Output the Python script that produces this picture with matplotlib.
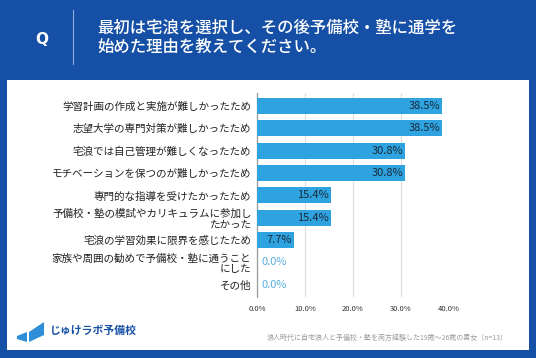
import matplotlib
matplotlib.use("Agg")
import matplotlib.pyplot as plt
from matplotlib.patches import Rectangle, Polygon

plt.rcParams['font.family'] = ['Noto Sans CJK JP', 'DejaVu Sans']

categories = [
    "学習計画の作成と実施が難しかったため",
    "志望大学の専門対策が難しかったため",
    "宅浪では自己管理が難しくなったため",
    "モチベーションを保つのが難しかったため",
    "専門的な指導を受けたかったため",
    "予備校・塾の模試やカリキュラムに参加し\nたかった",
    "宅浪の学習効果に限界を感じたため",
    "家族や周囲の勧めで予備校・塾に通うこと\nにした",
    "その他",
]
values = [38.5, 38.5, 30.8, 30.8, 15.4, 15.4, 7.7, 0.0, 0.0]
xticks = [0, 10, 20, 30, 40]
title = "最初は宅浪を選択し、その後予備校・塾に通学を\n始めた理由を教えてください。"
note = "浪人時代に自宅浪人と予備校・塾を両方経験した19歳～26歳の男女（n=13）"

BLUE = '#1650a6'
BAR = '#2ea3e0'

fig = plt.figure(figsize=(5.36, 3.58), dpi=100)
fig.patch.set_facecolor(BLUE)

W, H = 536, 358
def fx(px): return px / W
def fy(py): return 1 - py / H

# white panel
fig.patches.append(Rectangle((fx(7), fy(350)), fx(522), 270 / H, transform=fig.transFigure,
                             facecolor='white', edgecolor='none', zorder=0))
# header
fig.text(fx(42), fy(40), "Q", color='white', fontsize=11, fontweight='bold',
         ha='center', va='center', family=['DejaVu Sans'])
fig.add_artist(plt.Line2D([fx(73), fx(73)], [fy(10), fy(64)], color='#8fa8d4', lw=0.8,
                          transform=fig.transFigure))
fig.text(fx(97), fy(38), title, color='white', fontsize=11.8, fontweight='medium',
         ha='left', va='center', linespacing=1.2)

ax = fig.add_axes([fx(257), fy(297), fx(449) - fx(257), (297 - 93) / H])
ax.set_zorder(5)
y = list(range(len(categories)))
ax.barh(y, values, height=0.72, color=BAR, zorder=3)
for yi, v in zip(y, values):
    if v > 0:
        ax.text(v - 0.4, yi, f"{v:.1f}%", ha='right', va='center', fontsize=8,
                color='#1a2a3a', zorder=4)
    else:
        ax.text(1.0, yi, f"{v:.1f}%", ha='left', va='center', fontsize=8,
                color='#5aaee0', zorder=4)

ax.set_xlim(0, 40)
ax.set_ylim(8.55, -0.58)
ax.set_yticks(y)
ax.set_yticklabels(categories, fontsize=7.6, linespacing=1.12, color='#222222')
ax.set_xticks(xticks)
ax.set_xticklabels([f"{t:.1f}%" for t in xticks], fontsize=5.5, color='#333333')
ax.tick_params(axis='both', length=0)
ax.tick_params(axis='y', pad=4)
ax.tick_params(axis='x', pad=6)
for s in ['top', 'right', 'bottom']:
    ax.spines[s].set_visible(False)
ax.spines['left'].set_color('#999999')
ax.spines['left'].set_linewidth(0.9)
ax.grid(axis='x', color='#dddddd', lw=0.8, zorder=0)
ax.set_axisbelow(True)
ax.set_facecolor('white')

# footer logo
fig.text(fx(50), fy(331), "じゅけラボ予備校", color=BLUE, fontsize=7.8, fontweight='bold',
         ha='left', va='center')
fig.patches.append(Polygon([(fx(17), fy(336)), (fx(27), fy(332)), (fx(27), fy(342)),
                            (fx(17), fy(339))], closed=True, transform=fig.transFigure,
                           facecolor='#2e8fd8', edgecolor='none', zorder=1))
fig.patches.append(Polygon([(fx(29), fy(332)), (fx(44), fy(322)), (fx(44), fy(335)),
                            (fx(29), fy(342))], closed=True, transform=fig.transFigure,
                           facecolor='#2e8fd8', edgecolor='none', zorder=1))
fig.text(fx(508), fy(338), note, color='#999999', fontsize=5, ha='right', va='center')

fig.savefig("out.png", dpi=100, facecolor=fig.get_facecolor())
